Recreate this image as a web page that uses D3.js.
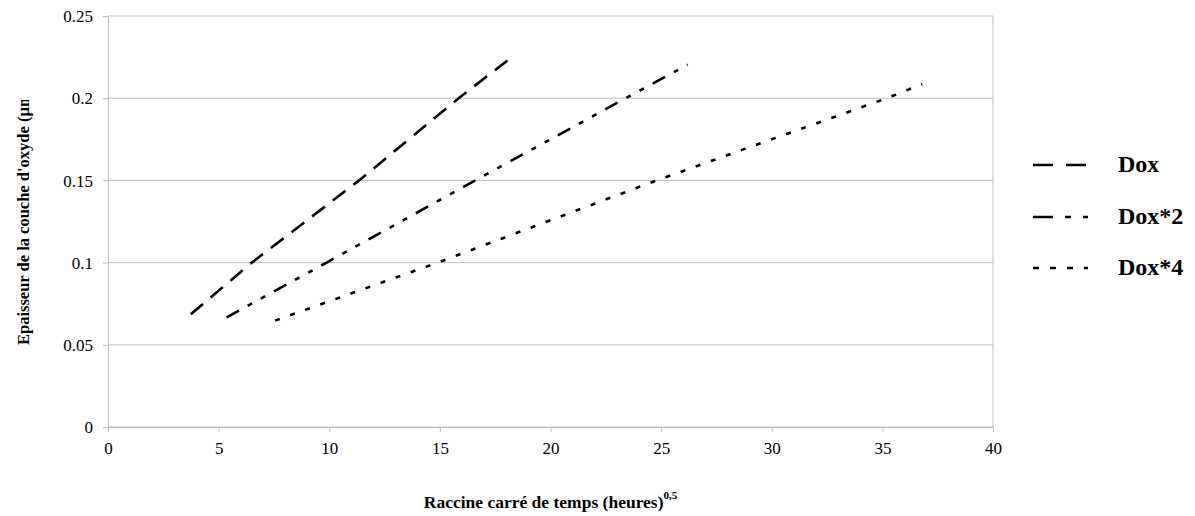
<!DOCTYPE html>
<html>
<head>
<meta charset="utf-8">
<script src="https://cdn.jsdelivr.net/npm/d3@7"></script>
<style>
  html, body { margin: 0; padding: 0; background: #fff; }
</style>
</head>
<body>
<svg id="chart" width="1195" height="516"></svg>
<script>
const FONT = "Liberation Serif";
// ---- data ----
const seriesNames = ["Dox", "Dox*2", "Dox*4"];
const doxX  = [3.74, 6.5, 11.35, 15.85, 18.32];
const doxY  = [0.0686, 0.1, 0.15, 0.2, 0.2257];
const dox2X = [5.36, 9.88, 16.6, 23.4, 26.2];
const dox2Y = [0.0667, 0.1, 0.15, 0.2, 0.2204];
const dox4X = [7.55, 14.9, 24.8, 35.2, 36.8];
const dox4Y = [0.0647, 0.1, 0.15, 0.2, 0.2086];
const xTicks = [0, 5, 10, 15, 20, 25, 30, 35, 40];
const yTicks = [0, 0.05, 0.1, 0.15, 0.2, 0.25];
const xTitle = "Raccine carré de temps (heures)";
const xTitleSup = "0,5";
const yTitle = "Epaisseur de la couche d'oxyde (µm)";

// ---- layout ----
const svg = d3.select("#chart");
const m = { left: 108, top: 16, right: 1195 - 993, bottom: 516 - 427 };
const W = 1195 - m.left - m.right;
const H = 516 - m.top - m.bottom;
const x = d3.scaleLinear().domain([0, 40]).range([0, W]);
const y = d3.scaleLinear().domain([0, 0.25]).range([H, 0]);
const g = svg.append("g").attr("transform", `translate(${m.left},${m.top})`);
const grid = "#bfbfbf";

// gridlines
g.selectAll(".grid").data(yTicks).enter().append("line")
  .attr("x1", 0).attr("x2", W)
  .attr("y1", d => y(d)).attr("y2", d => y(d))
  .attr("stroke", grid).attr("stroke-width", 1);
// right border
g.append("line").attr("x1", W).attr("x2", W).attr("y1", 0).attr("y2", H)
  .attr("stroke", grid);

// axes
const xAxis = g.append("g").attr("transform", `translate(0,${H})`)
  .call(d3.axisBottom(x).tickValues(xTicks).tickFormat(d3.format("d")).tickSizeInner(5).tickSizeOuter(0).tickPadding(8));
const yAxis = g.append("g")
  .call(d3.axisLeft(y).tickValues(yTicks).tickFormat(d => d === 0 ? "0" : String(+d.toFixed(2))).tickSizeInner(5).tickSizeOuter(0).tickPadding(10));
[xAxis, yAxis].forEach(a => {
  a.attr("font-family", FONT).attr("font-size", 17);
  a.select(".domain").attr("stroke", grid);
  a.selectAll(".tick line").attr("stroke", grid);
  a.selectAll("text").attr("fill", "#000").attr("font-family", FONT).attr("font-size", 17);
});
yAxis.selectAll("text").attr("dy", "0.33em");
xAxis.selectAll("text").attr("dy", "0.85em");

// series
const series = [
  { name: seriesNames[0], xs: doxX,  ys: doxY,  dash: "16,10" },
  { name: seriesNames[1], xs: dox2X, ys: dox2Y, dash: "14,10,5,10,5,10" },
  { name: seriesNames[2], xs: dox4X, ys: dox4Y, dash: "5,11" }
];
const line = d3.line().x(d => x(d[0])).y(d => y(d[1]));
series.forEach(s => {
  const pts = s.xs.map((v, i) => [v, s.ys[i]]);
  g.append("path").datum(pts).attr("d", line)
    .attr("fill", "none").attr("stroke", "#000").attr("stroke-width", 2.6)
    .attr("stroke-dasharray", s.dash);
});

// legend
const legY = [165, 217, 268];
const leg = svg.append("g");
series.forEach((s, i) => {
  leg.append("line").attr("x1", 1033).attr("x2", 1088)
    .attr("y1", legY[i]).attr("y2", legY[i])
    .attr("stroke", "#000").attr("stroke-width", 2.6)
    .attr("stroke-dasharray", i === 0 ? "20,13" : i === 1 ? "20,12,6,12,6,12" : "6,11");
  leg.append("text").attr("x", 1118).attr("y", legY[i]).attr("dy", "0.3em")
    .attr("font-family", FONT).attr("font-weight", "bold").attr("font-size", 24).text(s.name);
});

// x title
const xt = svg.append("text").attr("x", m.left + W / 2).attr("y", 508)
  .attr("text-anchor", "middle").attr("font-family", FONT)
  .attr("font-weight", "bold").attr("font-size", 17.5);
xt.append("tspan").text(xTitle);
xt.append("tspan").attr("dy", "-9").attr("font-size", 11).text(xTitleSup);

// y title (clipped at top as in reference)
svg.append("clipPath").attr("id", "yclip").append("rect")
  .attr("x", 0).attr("y", 100).attr("width", 60).attr("height", 300);
svg.append("g").attr("clip-path", "url(#yclip)")
  .append("text").attr("transform", "translate(29,345) rotate(-90)")
  .attr("text-anchor", "start").attr("font-family", FONT)
  .attr("font-weight", "bold").attr("font-size", 16.5)
  .text(yTitle);
</script>
</body>
</html>
